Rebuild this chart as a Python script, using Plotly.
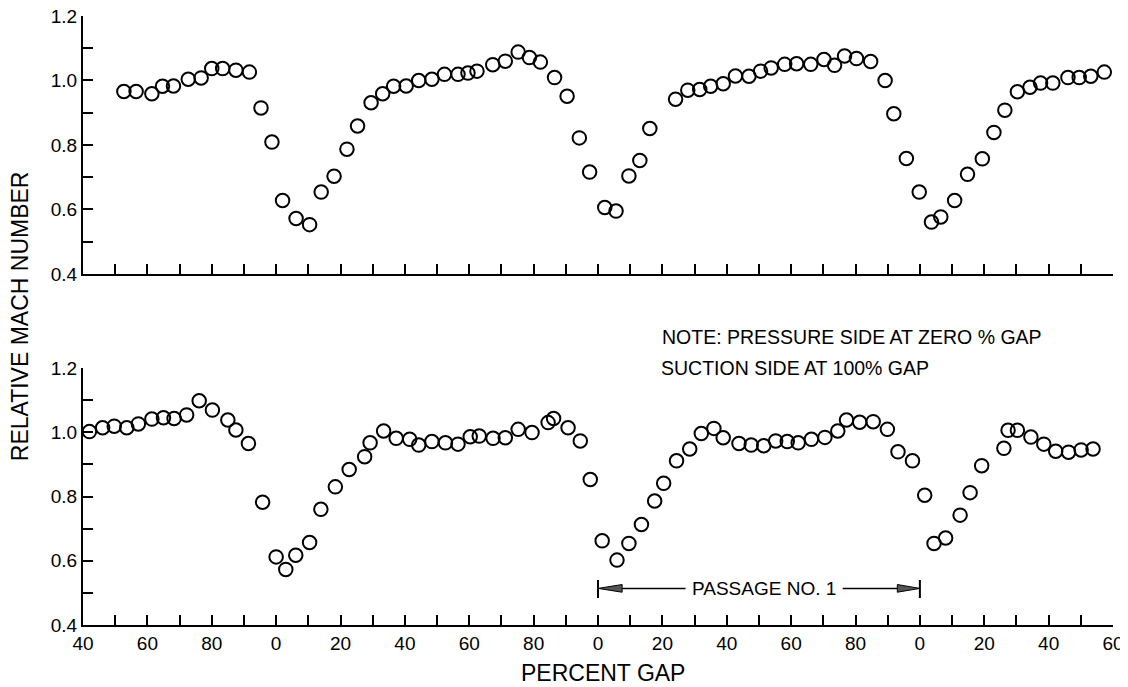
import plotly.graph_objects as go

# gap is read along one continuous axis (40 .. 360); the printed label is gap mod 100
top_gap = [52.7, 56.5, 61.4, 64.7, 68.1, 72.7, 76.7, 80.0, 83.4, 87.5, 91.7, 95.3, 98.7,
           102.0, 106.2, 110.4, 114.0, 118.0, 122.0, 125.3, 129.5, 133.1, 136.5, 140.4,
           144.3, 148.4, 152.3, 156.5, 159.6, 162.4, 167.3, 171.2, 175.2, 178.7, 182.1,
           186.5, 190.4, 194.2, 197.4, 202.1, 205.6, 209.6, 213.0, 216.1, 224.1, 227.9,
           231.6, 235.0, 238.9, 242.7, 246.9, 250.5, 253.8, 258.0, 261.7, 266.1, 270.2,
           273.5, 276.6, 280.3, 284.7, 289.2, 291.9, 295.8, 299.8, 303.6, 306.5, 310.8,
           314.8, 319.4, 323.0, 326.4, 330.3, 334.2, 337.5, 341.3, 346.0, 349.5, 353.1,
           357.3]
top_mach = [0.966, 0.966, 0.959, 0.982, 0.983, 1.004, 1.008, 1.037, 1.037, 1.032, 1.026,
            0.915, 0.809, 0.628, 0.572, 0.553, 0.654, 0.703, 0.787, 0.859, 0.931, 0.959,
            0.982, 0.983, 1.000, 1.004, 1.019, 1.019, 1.023, 1.029, 1.049, 1.060, 1.088,
            1.071, 1.057, 1.009, 0.951, 0.822, 0.716, 0.606, 0.595, 0.704, 0.752, 0.851,
            0.942, 0.970, 0.972, 0.982, 0.990, 1.014, 1.013, 1.029, 1.039, 1.050, 1.052,
            1.050, 1.065, 1.047, 1.076, 1.068, 1.059, 1.000, 0.897, 0.758, 0.654, 0.561,
            0.577, 0.628, 0.709, 0.757, 0.839, 0.908, 0.965, 0.979, 0.992, 0.992, 1.009,
            1.009, 1.013, 1.026]

bottom_gap = [42.0, 46.1, 49.7, 53.6, 57.2, 61.4, 65.0, 68.3, 72.2, 76.1, 80.2, 85.0, 87.5,
              91.4, 95.8, 100.0, 103.0, 106.1, 110.4, 113.9, 118.4, 122.7, 127.5, 129.2,
              133.4, 137.3, 141.5, 144.3, 148.4, 152.6, 156.5, 160.3, 163.1, 167.4, 171.2,
              175.2, 179.5, 184.5, 186.2, 190.7, 194.5, 197.6, 201.3, 205.9, 209.6, 213.5,
              217.6, 220.4, 224.4, 228.5, 232.1, 236.0, 238.9, 243.8, 247.6, 251.5, 255.2,
              258.8, 262.2, 266.3, 270.5, 274.5, 277.2, 281.3, 285.5, 289.9, 293.2, 297.7,
              301.5, 304.4, 308.0, 312.5, 315.6, 319.2, 326.1, 327.4, 330.3, 334.5, 338.5,
              342.2, 346.2, 350.1, 353.8]
bottom_mach = [1.002, 1.014, 1.019, 1.014, 1.026, 1.041, 1.045, 1.043, 1.054, 1.098, 1.069,
               1.038, 1.007, 0.965, 0.782, 0.612, 0.573, 0.617, 0.657, 0.760, 0.830, 0.884,
               0.924, 0.967, 1.004, 0.981, 0.978, 0.960, 0.971, 0.967, 0.963, 0.986, 0.988,
               0.981, 0.983, 1.009, 0.999, 1.030, 1.043, 1.014, 0.973, 0.853, 0.662, 0.602,
               0.654, 0.713, 0.786, 0.841, 0.911, 0.948, 0.996, 1.012, 0.983, 0.965, 0.960,
               0.958, 0.973, 0.971, 0.967, 0.978, 0.984, 1.004, 1.038, 1.031, 1.033, 1.009,
               0.939, 0.911, 0.804, 0.654, 0.671, 0.742, 0.812, 0.896, 0.950, 1.006, 1.006,
               0.985, 0.963, 0.941, 0.938, 0.945, 0.948]

gap_ticks = list(range(40, 361, 20))
gap_labels = [str(v % 100) for v in gap_ticks]
gap_minor = list(range(50, 360, 20))
mach_ticks = [0.4, 0.6, 0.8, 1.0, 1.2]
mach_labels = ["0.4", "0.6", "0.8", "1.0", "1.2"]
mach_minor = [0.5, 0.7, 0.9, 1.1]

passage_start = 200
passage_end = 300

FONT = "Liberation Sans, Arial, Helvetica, sans-serif"
INK = "#000000"

fig = go.Figure()

marker = dict(symbol="circle-open", size=13.5, color=INK, line=dict(width=2))
fig.add_trace(go.Scatter(x=top_gap, y=top_mach, mode="markers", marker=marker,
                         xaxis="x", yaxis="y", showlegend=False))
fig.add_trace(go.Scatter(x=bottom_gap, y=bottom_mach, mode="markers", marker=marker,
                         xaxis="x2", yaxis="y2", showlegend=False))

tick_style = dict(ticks="inside", ticklen=10, tickwidth=2, tickcolor=INK,
                  showline=True, linecolor=INK, linewidth=2,
                  showgrid=False, zeroline=False, automargin=False,
                  ticklabeloverflow="allow",
                  tickfont=dict(family=FONT, size=19, color=INK))

x_common = dict(range=[40, 360], tickmode="array", tickvals=gap_ticks, ticktext=gap_labels,
                minor=dict(tickmode="array", tickvals=gap_minor, ticks="inside",
                           ticklen=10, tickwidth=2, tickcolor=INK),
                **tick_style)
y_common = dict(range=[0.4, 1.2], tickmode="array", tickvals=mach_ticks, ticktext=mach_labels,
                minor=dict(tickmode="array", tickvals=mach_minor, ticks="inside",
                           ticklen=10, tickwidth=2, tickcolor=INK),
                **tick_style)

# the page body adds an 8px offset, so the figure is shrunk and shifted to compensate
fig.update_layout(
    template="none",
    width=1120,
    height=679,
    margin=dict(l=75, r=15, t=8, b=62),
    paper_bgcolor="white",
    plot_bgcolor="white",
    xaxis=dict(anchor="y", showticklabels=False, **x_common),
    yaxis=dict(anchor="x", domain=[0.5764, 1.0], **y_common),
    xaxis2=dict(anchor="y2", **x_common),
    yaxis2=dict(anchor="x2", domain=[0.0, 0.422], **y_common),
)

# axis titles
fig.add_annotation(text="RELATIVE MACH NUMBER", xref="paper", yref="paper",
                   x=-0.0612, y=0.507, xanchor="center", yanchor="middle",
                   textangle=-90, showarrow=False,
                   font=dict(family=FONT, size=23, color=INK))
fig.add_annotation(text="PERCENT GAP", xref="paper", yref="paper",
                   x=0.505, y=-0.0788, xanchor="center", yanchor="middle", showarrow=False,
                   font=dict(family=FONT, size=23, color=INK))

# note
fig.add_annotation(text="NOTE: PRESSURE SIDE AT ZERO % GAP", xref="x2", yref="paper",
                   x=219.4, y=0.473, xanchor="left", yanchor="middle", showarrow=False,
                   font=dict(family=FONT, size=19.5, color=INK))
fig.add_annotation(text="SUCTION SIDE AT 100% GAP", xref="x2", yref="paper",
                   x=218.9, y=0.422, xanchor="left", yanchor="middle", showarrow=False,
                   font=dict(family=FONT, size=19.5, color=INK))

# passage marker
arrow_y = 0.514
fig.add_annotation(text="PASSAGE NO. 1", xref="x2", yref="y2",
                   x=(passage_start + passage_end) / 2 + 1.6, y=arrow_y, showarrow=False,
                   font=dict(family=FONT, size=19, color=INK))
line_style = dict(color=INK, width=2)
for xb in (passage_start, passage_end):
    fig.add_shape(type="line", xref="x2", yref="y2", x0=xb, x1=xb,
                  y0=arrow_y - 0.03, y1=arrow_y + 0.026, line=line_style)
fig.add_shape(type="line", xref="x2", yref="y2", x0=passage_start + 7.5, x1=227.2,
              y0=arrow_y, y1=arrow_y, line=dict(color=INK, width=1.5))
fig.add_shape(type="line", xref="x2", yref="y2", x0=276.0, x1=passage_end - 7.0,
              y0=arrow_y, y1=arrow_y, line=dict(color=INK, width=1.5))
head = 0.012
fig.add_shape(type="path", xref="x2", yref="y2",
              path=f"M {passage_start} {arrow_y} L {passage_start + 7.5} {arrow_y + head} "
                   f"L {passage_start + 7.5} {arrow_y - head} Z",
              fillcolor="#555555", line=dict(color=INK, width=1))
fig.add_shape(type="path", xref="x2", yref="y2",
              path=f"M {passage_end} {arrow_y} L {passage_end - 7.0} {arrow_y + head} "
                   f"L {passage_end - 7.0} {arrow_y - head} Z",
              fillcolor="#555555", line=dict(color=INK, width=1))

fig.write_html("out.html")
